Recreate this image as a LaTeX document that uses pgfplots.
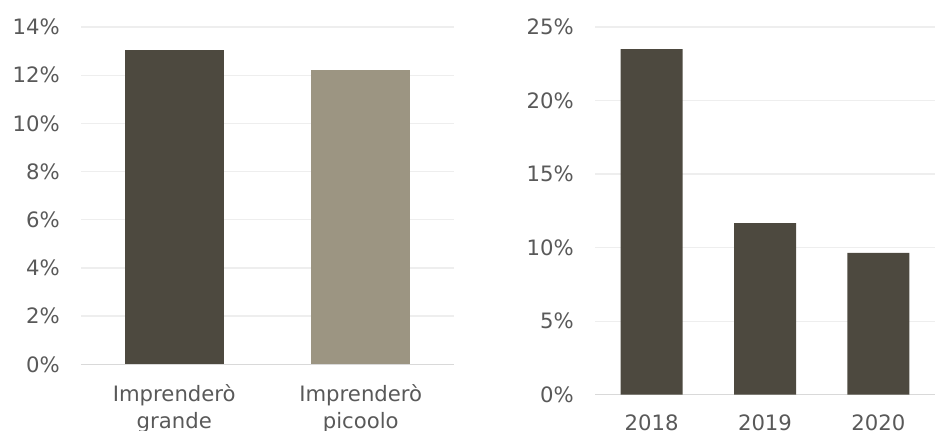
\documentclass[border=0pt]{standalone}
\usepackage{pgfplots}
\pgfplotsset{compat=1.18}
\usepackage{fontspec}
\setmainfont{DejaVu Sans}
\definecolor{darkbar}{RGB}{77,73,63}
\definecolor{lightbar}{RGB}{156,149,130}
\definecolor{textgray}{RGB}{89,89,89}
\definecolor{gridgray}{RGB}{238,238,238}
\definecolor{basegray}{RGB}{217,217,217}
\pgfplotsset{
  mystyle/.style={
    scale only axis,
    enlargelimits=false,
    axis line style={draw=none},
    tick style={draw=none},
    ymajorgrids,
    grid style={color=gridgray, line width=1.3pt},
    extra y ticks={0},
    extra y tick labels={},
    extra y tick style={grid style={color=basegray, line width=1.5pt}},
    ticklabel style={font=\fontsize{21.2}{27.5}\selectfont, text=textgray},
    yticklabel style={inner sep=0pt, xshift=-21pt},
    xticklabel style={inner sep=0pt, yshift=-20pt, align=center},
    xtick=data,
  }
}
\begin{document}
\begin{tikzpicture}[x=1pt,y=1pt]
\useasboundingbox (0,0) rectangle (935,431);
\begin{axis}[mystyle,
  at={(81pt,66.7pt)}, anchor=south west,
  width=373pt, height=337.3pt,
  xmin=-0.5, xmax=1.5, ymin=0, ymax=14,
  ytick={0,2,4,6,8,10,12,14},
  yticklabels={0\%,2\%,4\%,6\%,8\%,10\%,12\%,14\%},
  xtick={0,1},
  xticklabels={{Imprenderò\\grande},{Imprenderò\\picoolo}},
  bar width=98.7pt,
]
\addplot[ybar, fill=darkbar, draw=none] coordinates {(0,13.06)};
\addplot[ybar, fill=lightbar, draw=none] coordinates {(1,12.23)};
\end{axis}
\begin{axis}[mystyle,
  at={(595pt,36.3pt)}, anchor=south west,
  width=340pt, height=367.7pt,
  xmin=-0.5, xmax=2.5, ymin=0, ymax=25,
  ytick={0,5,10,15,20,25},
  yticklabels={0\%,5\%,10\%,15\%,20\%,25\%},
  xtick={0,1,2},
  xticklabels={2018,2019,2020},
  xticklabel style={text depth=0pt},
  bar width=62pt,
]
\addplot[ybar, fill=darkbar, draw=none] coordinates {(0,23.5) (1,11.67) (2,9.65)};
\end{axis}
\end{tikzpicture}
\end{document}
